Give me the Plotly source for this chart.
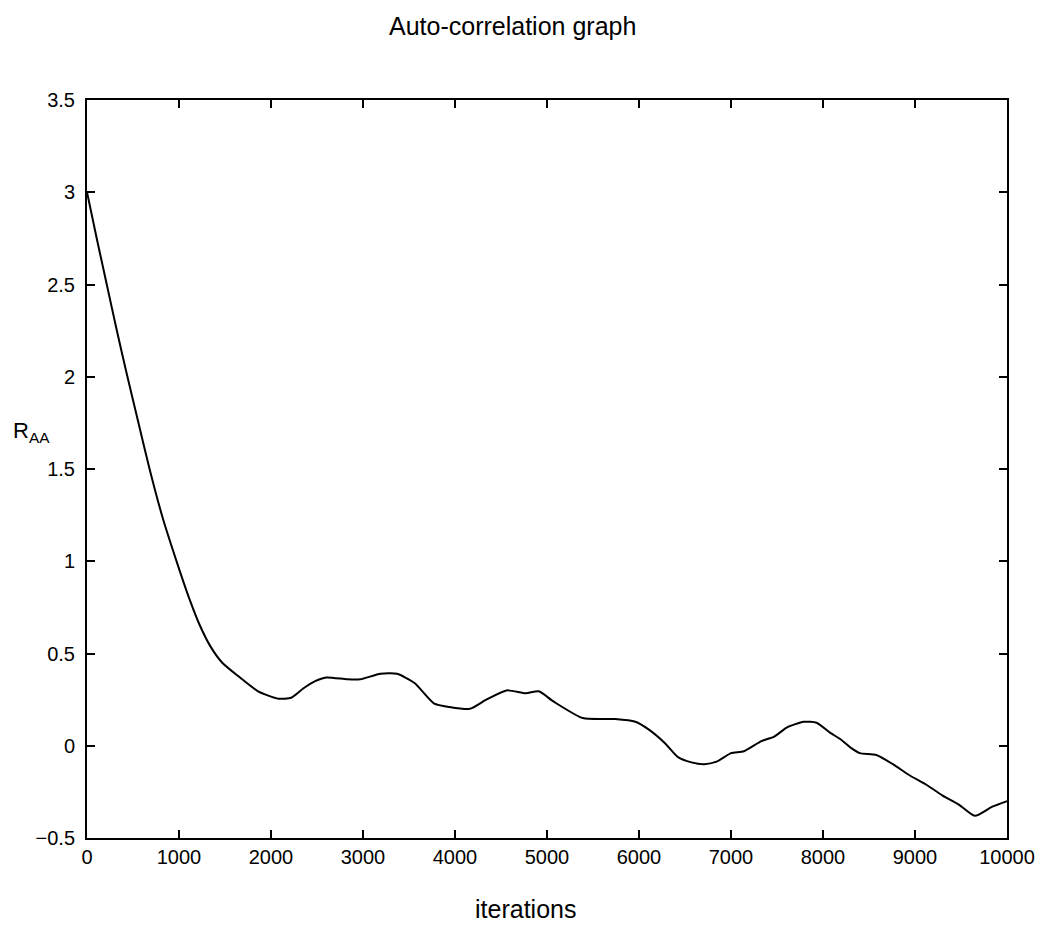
import plotly.graph_objects as go

iterations = [0, 110, 215, 320, 430, 550, 680, 820, 980, 1110, 1220, 1340, 1470, 1650, 1860,
              2080, 2220, 2350, 2480, 2600, 2830, 2970, 3190, 3370, 3560, 3770, 3940, 4160,
              4340, 4560, 4770, 4910, 5070, 5390, 5740, 5960, 6100, 6280, 6420, 6570, 6710,
              6850, 7000, 7140, 7330, 7470, 7610, 7790, 7930, 8080, 8190, 8300, 8400, 8580,
              8760, 8940, 9120, 9300, 9480, 9650, 9840, 10000]
r_aa = [3.0, 2.74, 2.5, 2.26, 2.02, 1.77, 1.50, 1.24, 0.99, 0.80, 0.66, 0.54, 0.45, 0.375, 0.295,
        0.255, 0.26, 0.31, 0.35, 0.37, 0.36, 0.36, 0.39, 0.39, 0.34, 0.23, 0.21, 0.20,
        0.25, 0.30, 0.285, 0.295, 0.24, 0.15, 0.145, 0.13, 0.09, 0.015, -0.06, -0.09, -0.10,
        -0.085, -0.04, -0.03, 0.025, 0.05, 0.10, 0.13, 0.125, 0.07, 0.035, -0.01, -0.04, -0.05,
        -0.10, -0.16, -0.21, -0.27, -0.32, -0.38, -0.33, -0.30]

x_ticks = [0, 1000, 2000, 3000, 4000, 5000, 6000, 7000, 8000, 9000, 10000]
y_ticks = [-0.5, 0, 0.5, 1, 1.5, 2, 2.5, 3, 3.5]
y_tick_labels = ["\u22120.5", "0", "0.5", "1", "1.5", "2", "2.5", "3", "3.5"]

FONT = "Liberation Sans, Arial, sans-serif"

fig = go.Figure()
fig.add_trace(go.Scatter(x=iterations, y=r_aa, mode="lines",
                         line=dict(color="black", width=2, shape="spline", smoothing=0.6),
                         showlegend=False, hoverinfo="skip"))

axis_common = dict(showgrid=False, zeroline=False, showline=True, linecolor="black",
                   linewidth=2, mirror="ticks", ticks="inside", ticklen=8, tickwidth=1.5,
                   tickcolor="black", tickfont=dict(family=FONT, size=20, color="black"))

fig.update_xaxes(range=[0, 10000], tickvals=x_ticks, ticktext=[str(v) for v in x_ticks],
                 **axis_common)
fig.update_yaxes(range=[-0.5, 3.5], tickvals=y_ticks, ticktext=y_tick_labels,
                 ticklabelstandoff=6, **axis_common)

fig.update_layout(
    width=1047, height=926,
    margin=dict(l=87, r=32, t=100, b=88),
    plot_bgcolor="white", paper_bgcolor="white",
    font=dict(family=FONT, color="black"),
    annotations=[
        dict(text="Auto-correlation graph", xref="paper", yref="paper",
             x=(516 - 87) / 928, y=(838 - 26) / 738, xanchor="center", yanchor="middle",
             showarrow=False, font=dict(family=FONT, size=25, color="black")),
        dict(text="iterations", xref="paper", yref="paper",
             x=(529 - 87) / 928, y=(838 - 909) / 738, xanchor="center", yanchor="middle",
             showarrow=False, font=dict(family=FONT, size=25, color="black")),
        dict(text="R<sub>AA</sub>", xref="paper", yref="paper",
             x=(10 - 87) / 928, y=(838 - 432) / 738, xanchor="left", yanchor="middle",
             showarrow=False, font=dict(family=FONT, size=22, color="black")),
    ],
)

fig.write_html("out.html")
